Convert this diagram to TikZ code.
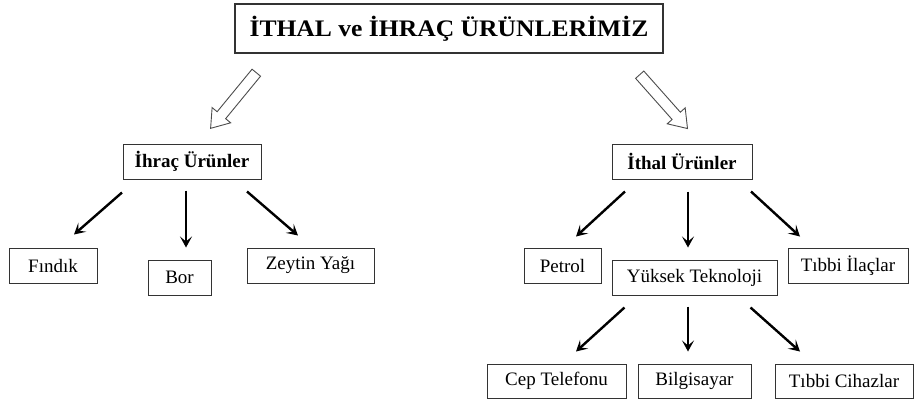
\documentclass[tikz,border=0pt]{standalone}
\usepackage{fontspec}
\setmainfont{Liberation Serif}
\newfontfamily\baslikfont{Liberation Serif}[FakeStretch=1.08]
\usetikzlibrary{arrows.meta,calc}
\begin{document}
\begin{tikzpicture}[x=1pt,y=-1pt,>={Stealth[length=11pt,width=12pt,inset=5pt]},
	kutu/.style={draw=black!80,line width=1pt,inner sep=0pt,minimum height=35pt,font=\fontsize{19}{21}\selectfont},
	baskutu/.style={kutu,font=\bfseries\fontsize{19}{21}\selectfont},
	ok/.style={->,line width=2.4pt},
	bos/.style={draw=black!70,line width=0.9pt,fill=white}]
	\useasboundingbox (0,0) rectangle (914,400);
	\node[kutu,line width=1.4pt,minimum width=428pt,minimum height=49pt,font=\baslikfont\bfseries\fontsize{23.7}{26}\selectfont] (baslik) at (449,28.5) {İTHAL ve İHRAÇ ÜRÜNLERİMİZ};
	% ihracat
	\node[baskutu,minimum width=138pt] (ihrac) at (192,161.5) {İhraç Ürünler};
	\node[kutu,minimum width=88pt] (findik) at (53,265.5) {Fındık};
	\node[kutu,minimum width=63pt] (bor) at (179.5,277.5) {Bor};
	\node[kutu,minimum width=127pt] (zeytin) at (310.5,265.5) {Zeytin Yağı};
	% ithalat
	\node[baskutu,minimum width=140pt] (ithal) at (682,161.5) {İthal Ürünler};
	\node[kutu,minimum width=77pt] (petrol) at (562.5,265.5) {Petrol};
	\node[kutu,minimum width=165pt] (teknoloji) at (694.5,277.5) {Yüksek Teknoloji};
	\node[kutu,minimum width=120pt] (ilac) at (848,265.5) {Tıbbi İlaçlar};
	\node[kutu,minimum width=139pt,minimum height=34pt] (telefon) at (556.5,381) {Cep Telefonu};
	\node[kutu,minimum width=113pt,minimum height=34pt] (bilgisayar) at (694.5,381) {Bilgisayar};
	\node[kutu,minimum width=138pt,minimum height=34pt] (cihaz) at (844,381) {Tıbbi Cihazlar};
	% bos oklar
	\begin{scope}[shift={($(baslik.south west)+(22,19)$)},rotate=230.6]
		\draw[bos] (0,-5.5) -- (55,-5.5) -- (55,-12) -- (72,0) -- (55,12) -- (55,5.5) -- (0,5.5) -- cycle;
	\end{scope}
	\begin{scope}[shift={($(baslik.south east)+(-24,21)$)},rotate=-48.4]
		\draw[bos] (0,-5.5) -- (55,-5.5) -- (55,-12) -- (72,0) -- (55,12) -- (55,5.5) -- (0,5.5) -- cycle;
	\end{scope}
	\draw[ok] ($(ihrac.south)+(-70,13)$) -- ($(findik.north)+(21,-13)$);
	\draw[ok] ($(ihrac.south)+(-6,11)$) -- ($(bor.north)+(6.5,-12)$);
	\draw[ok] ($(ihrac.south)+(55,12)$) -- ($(zeytin.north)+(-12.5,-12)$);
	\draw[ok] ($(ithal.south)+(-57,12)$) -- ($(petrol.north)+(13.5,-11)$);
	\draw[ok] ($(ithal.south)+(6,12)$) -- ($(teknoloji.north)+(-6.5,-12)$);
	\draw[ok] ($(ithal.south)+(69,12)$) -- ($(ilac.north)+(-48,-11)$);
	\draw[ok] ($(teknoloji.south)+(-70,12)$) -- ($(telefon.north)+(19.5,-12)$);
	\draw[ok] ($(teknoloji.south)+(-6.5,11)$) -- ($(bilgisayar.north)+(-6.5,-12)$);
	\draw[ok] ($(teknoloji.south)+(56,12)$) -- ($(cihaz.north)+(-44,-12)$);
\end{tikzpicture}
\end{document}
